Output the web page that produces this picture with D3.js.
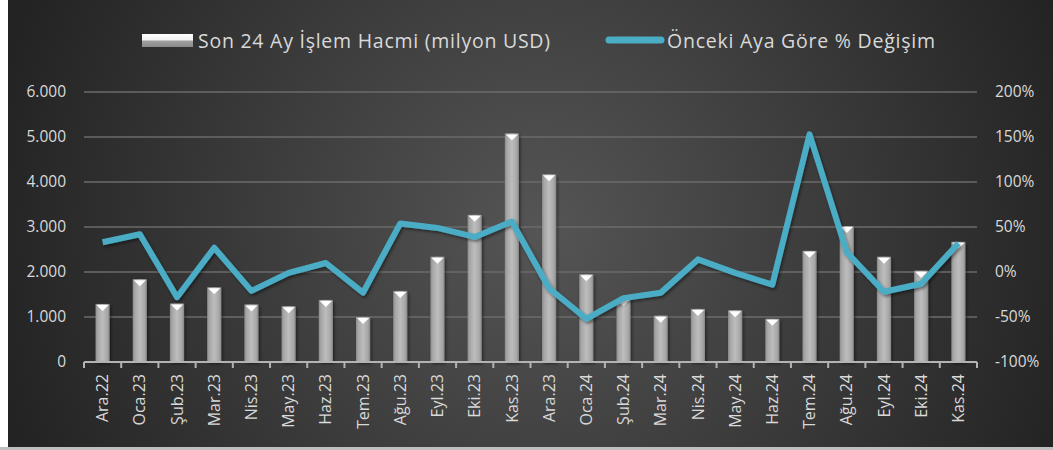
<!DOCTYPE html>
<html>
<head>
<meta charset="utf-8">
<script src="https://cdnjs.cloudflare.com/ajax/libs/d3/7.8.5/d3.min.js"></script>
<style>
  html, body { margin: 0; padding: 0; background: #ffffff; }
  svg { display: block; }
  text { font-family: "Open Sans", "Noto Sans", sans-serif; fill: #d9d9d9; }
</style>
</head>
<body>
<div id="chart"></div>
<script>
// Months (x axis)
var months = ["Ara.22", "Oca.23", "Şub.23", "Mar.23", "Nis.23", "May.23", "Haz.23", "Tem.23",
  "Ağu.23", "Eyl.23", "Eki.23", "Kas.23", "Ara.23", "Oca.24", "Şub.24", "Mar.24",
  "Nis.24", "May.24", "Haz.24", "Tem.24", "Ağu.24", "Eyl.24", "Eki.24", "Kas.24"];

// Son 24 Ay İşlem Hacmi (milyon USD)
var volume = [1290, 1840, 1300, 1660, 1280, 1240, 1380, 1000,
  1580, 2340, 3270, 5080, 4170, 1950, 1400, 1030,
  1180, 1150, 960, 2470, 3020, 2340, 2030, 2670];

// Önceki Aya Göre % Değişim
var change = [0.33, 0.42, -0.28, 0.27, -0.21, -0.01, 0.10, -0.23,
  0.54, 0.49, 0.39, 0.56, -0.18, -0.52, -0.29, -0.23,
  0.14, -0.01, -0.14, 1.53, 0.22, -0.22, -0.13, 0.32];

var leftTicks = [0, 1000, 2000, 3000, 4000, 5000, 6000];
var rightTicks = [-1, -0.5, 0, 0.5, 1, 1.5, 2];

var legendLabels = ["Son 24 Ay İşlem Hacmi (milyon USD)", "Önceki Aya Göre % Değişim"];

var W = 1053, H = 450;
var margin = { left: 84, right: 76, top: 92, bottom: 88 };

var tr = d3.formatLocale({ decimal: ",", thousands: ".", grouping: [3], currency: ["₺", ""], minus: "-", percent: "%" });
var fmtNum = tr.format(",.0f");
var fmtPct = tr.format(".0%");

var svg = d3.select("#chart").append("svg")
  .attr("width", W)
  .attr("height", H);

var defs = svg.append("defs");

var bg = defs.append("radialGradient")
  .attr("id", "bg")
  .attr("gradientUnits", "userSpaceOnUse")
  .attr("cx", 540).attr("cy", 230).attr("r", 560);
bg.append("stop").attr("offset", "0%").attr("stop-color", "#555555");
bg.append("stop").attr("offset", "100%").attr("stop-color", "#232323");

var barGrad = defs.append("linearGradient")
  .attr("id", "barGrad")
  .attr("x1", "0%").attr("x2", "100%").attr("y1", "0%").attr("y2", "0%");
barGrad.append("stop").attr("offset", "0%").attr("stop-color", "#8c8c8c");
barGrad.append("stop").attr("offset", "15%").attr("stop-color", "#a6a6a6");
barGrad.append("stop").attr("offset", "50%").attr("stop-color", "#bdbdbd");
barGrad.append("stop").attr("offset", "85%").attr("stop-color", "#a6a6a6");
barGrad.append("stop").attr("offset", "100%").attr("stop-color", "#858585");

var legGrad = defs.append("linearGradient")
  .attr("id", "legGrad")
  .attr("x1", "0%").attr("x2", "0%").attr("y1", "0%").attr("y2", "100%");
legGrad.append("stop").attr("offset", "0%").attr("stop-color", "#ffffff");
legGrad.append("stop").attr("offset", "45%").attr("stop-color", "#f2f2f2");
legGrad.append("stop").attr("offset", "55%").attr("stop-color", "#a0a0a0");
legGrad.append("stop").attr("offset", "100%").attr("stop-color", "#8a8a8a");

var shadow = defs.append("filter").attr("id", "shadow")
  .attr("x", "-20%").attr("y", "-20%").attr("width", "140%").attr("height", "140%");
shadow.append("feDropShadow")
  .attr("dx", 1.5).attr("dy", 2).attr("stdDeviation", 1.5)
  .attr("flood-color", "#000").attr("flood-opacity", 0.45);

// background panel (white strip on left, grey line at bottom like the picture)
svg.append("rect").attr("x", 0).attr("y", 0).attr("width", W).attr("height", H).attr("fill", "#ffffff");
svg.append("rect").attr("x", 0).attr("y", 447).attr("width", W).attr("height", 3).attr("fill", "#bfbfbf");
svg.append("rect").attr("x", 8).attr("y", 0).attr("width", W - 8).attr("height", 447).attr("fill", "url(#bg)");

var x = d3.scaleBand()
  .domain(months)
  .range([margin.left, W - margin.right]);

var yL = d3.scaleLinear()
  .domain([0, 6000])
  .range([H - margin.bottom, margin.top]);

var yR = d3.scaleLinear()
  .domain([-1, 2])
  .range([H - margin.bottom, margin.top]);

// gridlines
svg.append("g").selectAll("line")
  .data(leftTicks.slice(1))
  .enter().append("line")
  .attr("x1", margin.left).attr("x2", W - margin.right)
  .attr("y1", function(d) { return yL(d); })
  .attr("y2", function(d) { return yL(d); })
  .attr("stroke", "#6b6b6b")
  .attr("stroke-width", 1.5);

// left axis
var leftAxis = svg.append("g")
  .attr("transform", "translate(" + margin.left + ",0)")
  .call(d3.axisLeft(yL).tickValues(leftTicks).tickFormat(fmtNum).tickSize(0).tickPadding(18));
leftAxis.select(".domain").remove();
leftAxis.selectAll("text")
  .attr("font-size", "15.5px")
  .attr("font-family", "Open Sans, sans-serif")
  .attr("fill", "#d9d9d9");

// right axis
var rightAxis = svg.append("g")
  .attr("transform", "translate(" + (W - margin.right) + ",0)")
  .call(d3.axisRight(yR).tickValues(rightTicks).tickFormat(fmtPct).tickSize(0).tickPadding(18));
rightAxis.select(".domain").remove();
rightAxis.selectAll("text")
  .attr("font-size", "15.5px")
  .attr("font-family", "Open Sans, sans-serif")
  .attr("fill", "#d9d9d9");

// bars
var barW = x.bandwidth() * 0.38;
var bars = svg.append("g").attr("filter", "url(#shadow)");
bars.selectAll("rect")
  .data(volume)
  .enter().append("rect")
  .attr("x", function(d, i) { return x(months[i]) + x.bandwidth() / 2 - barW / 2; })
  .attr("y", function(d) { return yL(d); })
  .attr("width", barW)
  .attr("height", function(d) { return yL(0) - yL(d); })
  .attr("fill", "url(#barGrad)");

// bevel triangles on top of the bars
svg.append("g").selectAll("path")
  .data(volume)
  .enter().append("path")
  .attr("d", function(d, i) {
    var cx = x(months[i]) + x.bandwidth() / 2;
    var top = yL(d);
    return "M" + (cx - barW / 2 + 1) + "," + (top + 1) + "L" + (cx + barW / 2 - 1) + "," + (top + 1) + "L" + cx + "," + (top + 7) + "Z";
  })
  .attr("fill", "#ffffff");

// x axis
var xAxis = svg.append("g")
  .attr("transform", "translate(0," + yL(0) + ")")
  .call(d3.axisBottom(x).tickSize(0).tickPadding(0));
xAxis.select(".domain").remove();
xAxis.append("line")
  .attr("x1", margin.left).attr("x2", W - margin.right)
  .attr("y1", 0).attr("y2", 0)
  .attr("stroke", "#b3b3b3").attr("stroke-width", 2);
xAxis.selectAll(".sep")
  .data(d3.range(months.length + 1))
  .enter().append("line")
  .attr("class", "sep")
  .attr("x1", function(i) { return margin.left + i * x.step(); })
  .attr("x2", function(i) { return margin.left + i * x.step(); })
  .attr("y1", 0).attr("y2", 6)
  .attr("stroke", "#b3b3b3").attr("stroke-width", 2);
xAxis.selectAll(".tick text")
  .attr("font-size", "16px")
  .attr("font-family", "Open Sans, sans-serif")
  .attr("fill", "#d9d9d9")
  .attr("text-anchor", "end")
  .attr("dy", "0.35em")
  .attr("transform", "translate(0,12) rotate(-90)");

// line
var line = d3.line()
  .x(function(d, i) { return x(months[i]) + x.bandwidth() / 2; })
  .y(function(d) { return yR(d); });

svg.append("path")
  .datum(change)
  .attr("d", line)
  .attr("fill", "none")
  .attr("stroke", "#4bacc6")
  .attr("stroke-width", 6)
  .attr("stroke-linejoin", "round")
  .attr("filter", "url(#shadow)");

// legend
var legend = svg.append("g");
legend.append("rect")
  .attr("x", 142).attr("y", 34).attr("width", 51).attr("height", 13)
  .attr("fill", "url(#legGrad)");
legend.append("text")
  .attr("x", 198).attr("y", 48)
  .attr("font-size", "19.5px")
  .attr("textLength", 352)
  .attr("lengthAdjust", "spacing")
  .text(legendLabels[0]);
legend.append("line")
  .attr("x1", 609).attr("x2", 661).attr("y1", 40).attr("y2", 40)
  .attr("stroke", "#4bacc6").attr("stroke-width", 7).attr("stroke-linecap", "round");
legend.append("text")
  .attr("x", 667).attr("y", 48)
  .attr("font-size", "19.5px")
  .attr("textLength", 268)
  .attr("lengthAdjust", "spacing")
  .text(legendLabels[1]);
</script>
</body>
</html>
